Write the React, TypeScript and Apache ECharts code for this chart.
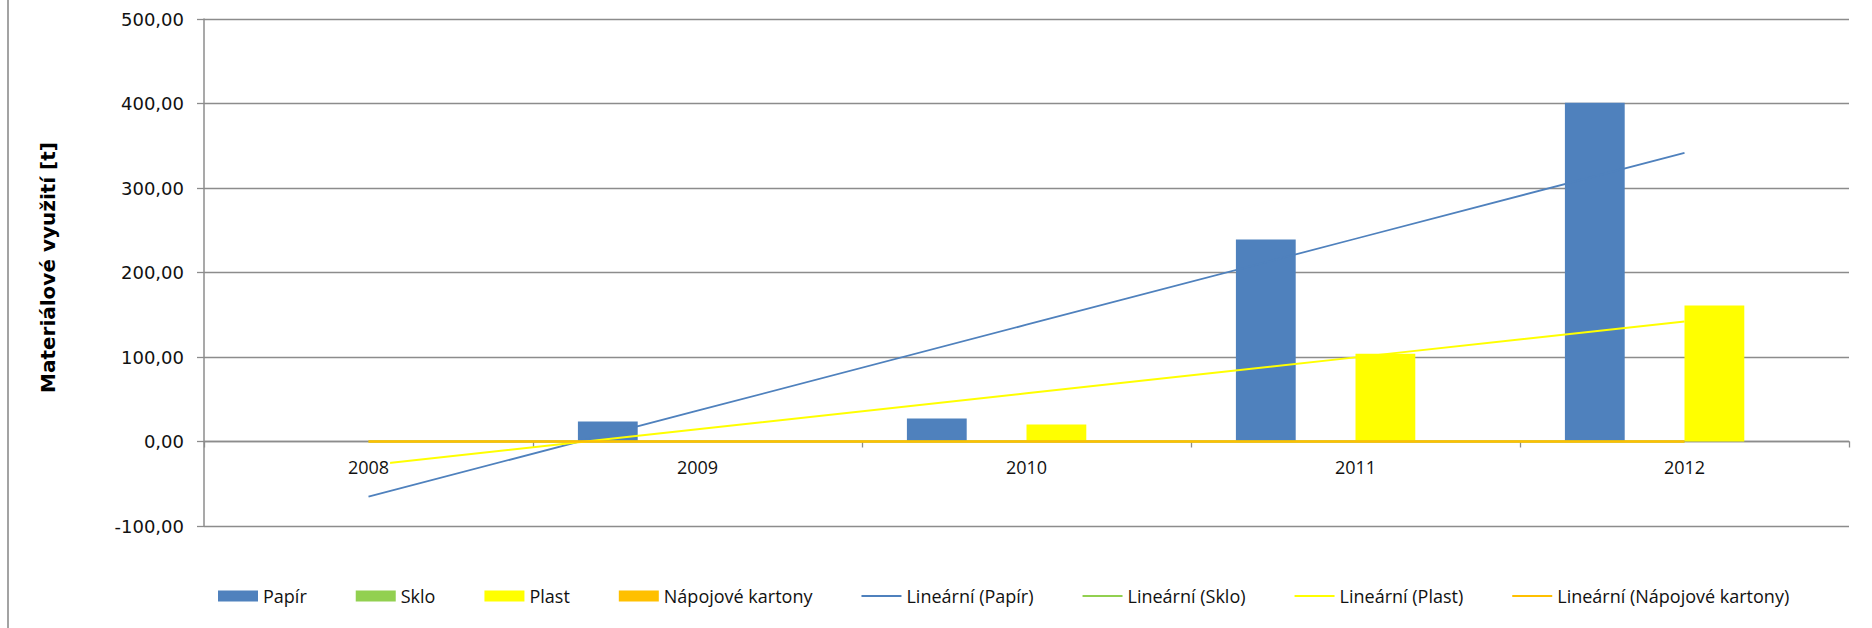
import React, { useEffect, useRef } from "react";
import * as echarts from "echarts";

const years = ["2008", "2009", "2010", "2011", "2012"];
const papir = [0, 23.7, 27.2, 239.1, 401];
const sklo = [0, 0, 0, 0, 0];
const plast = [0, 0, 20.1, 103.8, 161];
const napojoveKartony = [0, 0, 0, 0, 0];

const barNames = ["Papír", "Sklo", "Plast", "Nápojové kartony"];
const trendNames = [
  "Lineární (Papír)",
  "Lineární (Sklo)",
  "Lineární (Plast)",
  "Lineární (Nápojové kartony)",
];
const colors = ["#4F81BD", "#92D050", "#FFFF00", "#FFC000"];
const yMin = -100;
const yMax = 500;
const yStep = 100;
const yTitle = "Materiálové využití [t]";

function linearTrend(values: number[]): number[] {
  const n = values.length;
  const xs = values.map((_, i) => i + 1);
  const mx = xs.reduce((a, b) => a + b, 0) / n;
  const my = values.reduce((a, b) => a + b, 0) / n;
  let sxy = 0;
  let sxx = 0;
  xs.forEach((x, i) => {
    sxy += (x - mx) * (values[i] - my);
    sxx += (x - mx) * (x - mx);
  });
  const slope = sxy / sxx;
  return xs.map((x) => +(my + slope * (x - mx)).toFixed(3));
}

const W = 1872;
const H = 628;
const GRID = { left: 204, right: 23, top: 19, bottom: 102 };

export default function App() {
  const ref = useRef<HTMLDivElement>(null);
  useEffect(() => {
    if (!ref.current) return;
    const chart = echarts.init(ref.current, undefined, { renderer: "svg" });
    const data = [papir, sklo, plast, napojoveKartony];
    const lineWidths = [1.8, 1.8, 2, 2.4];
    const series: any[] = [];
    data.forEach((d, i) => {
      series.push({
        name: barNames[i],
        type: "bar",
        data: d,
        barGap: "0%",
        barCategoryGap: "27.3%",
        itemStyle: { color: colors[i] },
        z: 2,
      });
    });
    data.forEach((d, i) => {
      series.push({
        name: trendNames[i],
        type: "line",
        data: linearTrend(d),
        symbol: "none",
        lineStyle: { color: colors[i], width: lineWidths[i] },
        itemStyle: { color: colors[i] },
        z: 3,
      });
    });
    const plotH = H - GRID.top - GRID.bottom;
    // move the category axis up from the grid bottom to the value 0
    const zeroOffset = -((0 - yMin) / (yMax - yMin)) * plotH;
    const lineIcon = "path://M0,0L40,0L40,2.2L0,2.2Z";
    chart.setOption({
      animation: false,
      backgroundColor: "#ffffff",
      textStyle: { fontFamily: "Open Sans" },
      graphic: [
        {
          type: "rect",
          left: 7,
          top: 0,
          shape: { width: 2, height: H },
          style: { fill: "#a3a3a3" },
        },
      ],
      grid: { ...GRID, containLabel: false },
      legend: {
        left: 213,
        top: 582,
        itemWidth: 40,
        itemHeight: 11,
        itemGap: 49,
        textStyle: { fontFamily: "Open Sans", fontSize: 18, color: "#111" },
        data: [
          { name: barNames[0], icon: "rect" },
          { name: barNames[1], icon: "rect" },
          { name: barNames[2], icon: "rect" },
          { name: barNames[3], icon: "rect" },
          ...trendNames.map((n) => ({ name: n, icon: lineIcon })),
        ],
      },
      xAxis: [
        {
          type: "category",
          data: years,
          position: "bottom",
          offset: zeroOffset,
          axisLine: {
            show: true,
            onZero: false,
            lineStyle: { color: "#8c8c8c", width: 1.3 },
          },
          axisTick: {
            show: true,
            length: 6,
            lineStyle: { color: "#8c8c8c", width: 1.3 },
          },
          axisLabel: { show: false },
          splitLine: { show: false },
        },
        {
          type: "category",
          data: years,
          position: "bottom",
          offset: zeroOffset,
          z: 5,
          axisLine: { show: false, onZero: false },
          axisTick: { show: false },
          axisLabel: {
            fontFamily: "Open Sans",
            fontSize: 18,
            color: "#111",
            margin: 16,
            backgroundColor: "#ffffff",
            padding: [0, 1],
          },
          splitLine: { show: false },
        },
      ],
      yAxis: {
        type: "value",
        min: yMin,
        max: yMax,
        interval: yStep,
        name: yTitle,
        nameLocation: "middle",
        nameGap: 146,
        nameRotate: 90,
        nameTextStyle: {
          fontFamily: "DejaVu Sans",
          fontWeight: "bold",
          fontSize: 20,
          color: "#000",
          padding: [0, 0, 0, 10],
        },
        axisLine: { show: true, lineStyle: { color: "#8c8c8c", width: 1.5 } },
        axisTick: {
          show: true,
          length: 7,
          lineStyle: { color: "#8c8c8c", width: 1.3 },
        },
        axisLabel: {
          fontFamily: "DejaVu Sans",
          fontSize: 18,
          color: "#111",
          margin: 20,
          formatter: (v: number) => v.toFixed(2).replace(".", ","),
        },
        splitLine: { show: true, lineStyle: { color: "#8c8c8c", width: 1.3 } },
      },
      series,
    });
    return () => chart.dispose();
  }, []);
  return (
    <div
      ref={ref}
      style={{ position: "fixed", left: 0, top: 0, width: W, height: H }}
    />
  );
}
